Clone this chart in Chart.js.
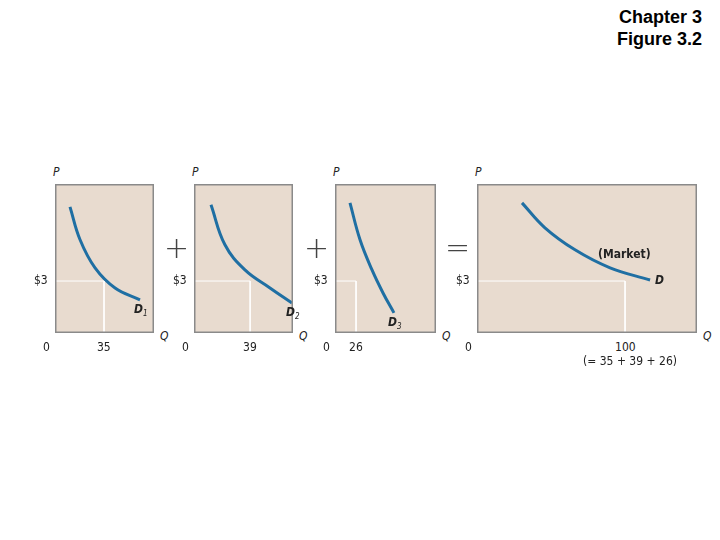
<!DOCTYPE html>
<html>
<head>
<meta charset="utf-8">
<script src="https://cdn.jsdelivr.net/npm/chart.js@4"></script>
<style>
  body { margin: 0; width: 720px; height: 540px; background: #fff; position: relative; overflow: hidden; }
  canvas { position: absolute; }
  .lbl { position: absolute; font-family: "DejaVu Sans Condensed", "Liberation Sans Narrow", sans-serif; font-size: 12px; color: #222; white-space: nowrap; }
  .it { font-style: italic; }
  .op { position: absolute; font-family: "DejaVu Sans", sans-serif; font-size: 30px; font-weight: 200; color: #444; }
  #title { position: absolute; right: 18px; top: 6px; text-align: right; font: bold 18px "Liberation Sans Narrow", "Arial Narrow", sans-serif; line-height: 22px; color: #000; }
</style>
</head>
<body>
<div id="title">Chapter 3<br>Figure 3.2</div>

<script>
// ================= DATA =================
const priceMax = 8.6;
const guidePrice = 3;

const d1Q = [10.7, 17.9, 28.6, 42.9, 60.7];
const d1P = [7.28, 5.38, 3.76, 2.6, 1.91];
const d2Q = [11.8, 21.5, 35.4, 52.8, 68.1];
const d2P = [7.4, 5.09, 3.64, 2.6, 1.73];
const d3Q = [18.5, 30.9, 45.7, 59.3, 72.8];
const d3P = [7.51, 5.38, 3.64, 2.31, 1.16];
const dmQ = [30.4, 45.9, 66.2, 89.9, 116.9];
const dmP = [7.51, 6.07, 4.8, 3.76, 3.06];

const guideQ = [35, 39, 26, 100];
const qMax = [70.7, 68.8, 124.7, 148.6];

// ================= PANELS =================
const panels = [
  { left: 55,  width: 99,  q: d1Q, p: d1P, sub: "1" },
  { left: 194, width: 99,  q: d2Q, p: d2P, sub: "2" },
  { left: 335, width: 101, q: d3Q, p: d3P, sub: "3" },
  { left: 477, width: 220, q: dmQ, p: dmP, sub: "" }
];
const TOP = 184, HEIGHT = 149;

const boxPlugin = {
  id: "box",
  beforeDraw(chart) {
    const { ctx, chartArea: a } = chart;
    ctx.save();
    ctx.fillStyle = "#e8dbcf";
    ctx.fillRect(a.left, a.top, a.width, a.height);
    ctx.restore();
  },
  afterDraw(chart) {
    const { ctx, chartArea: a } = chart;
    ctx.save();
    ctx.strokeStyle = "#8a8a8a";
    ctx.lineWidth = 1.5;
    ctx.strokeRect(a.left + 0.75, a.top + 0.75, a.width - 1.5, a.height - 1.5);
    ctx.restore();
  }
};

function label(text, x, y, cls) {
  const d = document.createElement("div");
  d.className = "lbl " + (cls || "");
  d.innerHTML = text;
  d.style.left = x + "px";
  d.style.top = y + "px";
  document.body.appendChild(d);
}

panels.forEach((pn, i) => {
  const c = document.createElement("canvas");
  c.width = pn.width;
  c.height = HEIGHT;
  c.style.left = pn.left + "px";
  c.style.top = TOP + "px";
  document.body.appendChild(c);

  const gq = guideQ[i];
  new Chart(c, {
    type: "line",
    data: {
      datasets: [
        {
          data: [{ x: 0, y: guidePrice }, { x: gq, y: guidePrice }, { x: gq, y: 0 }],
          borderColor: "#ffffff",
          borderWidth: 1,
          pointRadius: 0,
          tension: 0
        },
        {
          data: pn.q.map((q, k) => ({ x: q, y: pn.p[k] })),
          borderColor: "#1f6fa3",
          borderWidth: 3,
          pointRadius: 0,
          tension: 0.4
        }
      ]
    },
    options: {
      responsive: false,
      animation: false,
      layout: { padding: 0 },
      plugins: { legend: { display: false }, tooltip: { enabled: false } },
      scales: {
        x: { type: "linear", min: 0, max: qMax[i], display: false },
        y: { min: 0, max: priceMax, display: false }
      }
    },
    plugins: [boxPlugin]
  });

  // axis labels
  label("P", pn.left - 2, TOP - 19, "it");
  label("Q", pn.left + pn.width + 6, TOP + HEIGHT - 4, "it");
  label("0", pn.left - 12, TOP + HEIGHT + 7);
  label("$3", pn.left - 21, TOP + HEIGHT - guidePrice / priceMax * HEIGHT - 8);
  const gx = pn.left + gq / qMax[i] * pn.width;
  label(String(gq), gx - (gq >= 100 ? 10 : 7), TOP + HEIGHT + 7);
  const endX = pn.left + pn.q[pn.q.length - 1] / qMax[i] * pn.width;
  const endY = TOP + HEIGHT - pn.p[pn.p.length - 1] / priceMax * HEIGHT;
  if (pn.sub) {
    label("<b>D</b><sub style='font-size:8px'>" + pn.sub + "</sub>", endX - 6, endY + 2, "it");
  } else {
    label("<b>D</b>", endX + 5, endY - 7, "it");
    label("<b>(Market)</b>", endX - 52, endY - 33);
    label("(= 35 + 39 + 26)", gx - 42, TOP + HEIGHT + 21);
  }
});

// operators between panels
[["+", 164, 230], ["+", 304, 230], ["=", 445, 230]].forEach(o => {
  const d = document.createElement("div");
  d.className = "op";
  d.textContent = o[0];
  d.style.left = o[1] + "px";
  d.style.top = o[2] + "px";
  document.body.appendChild(d);
});
</script>
</body>
</html>
